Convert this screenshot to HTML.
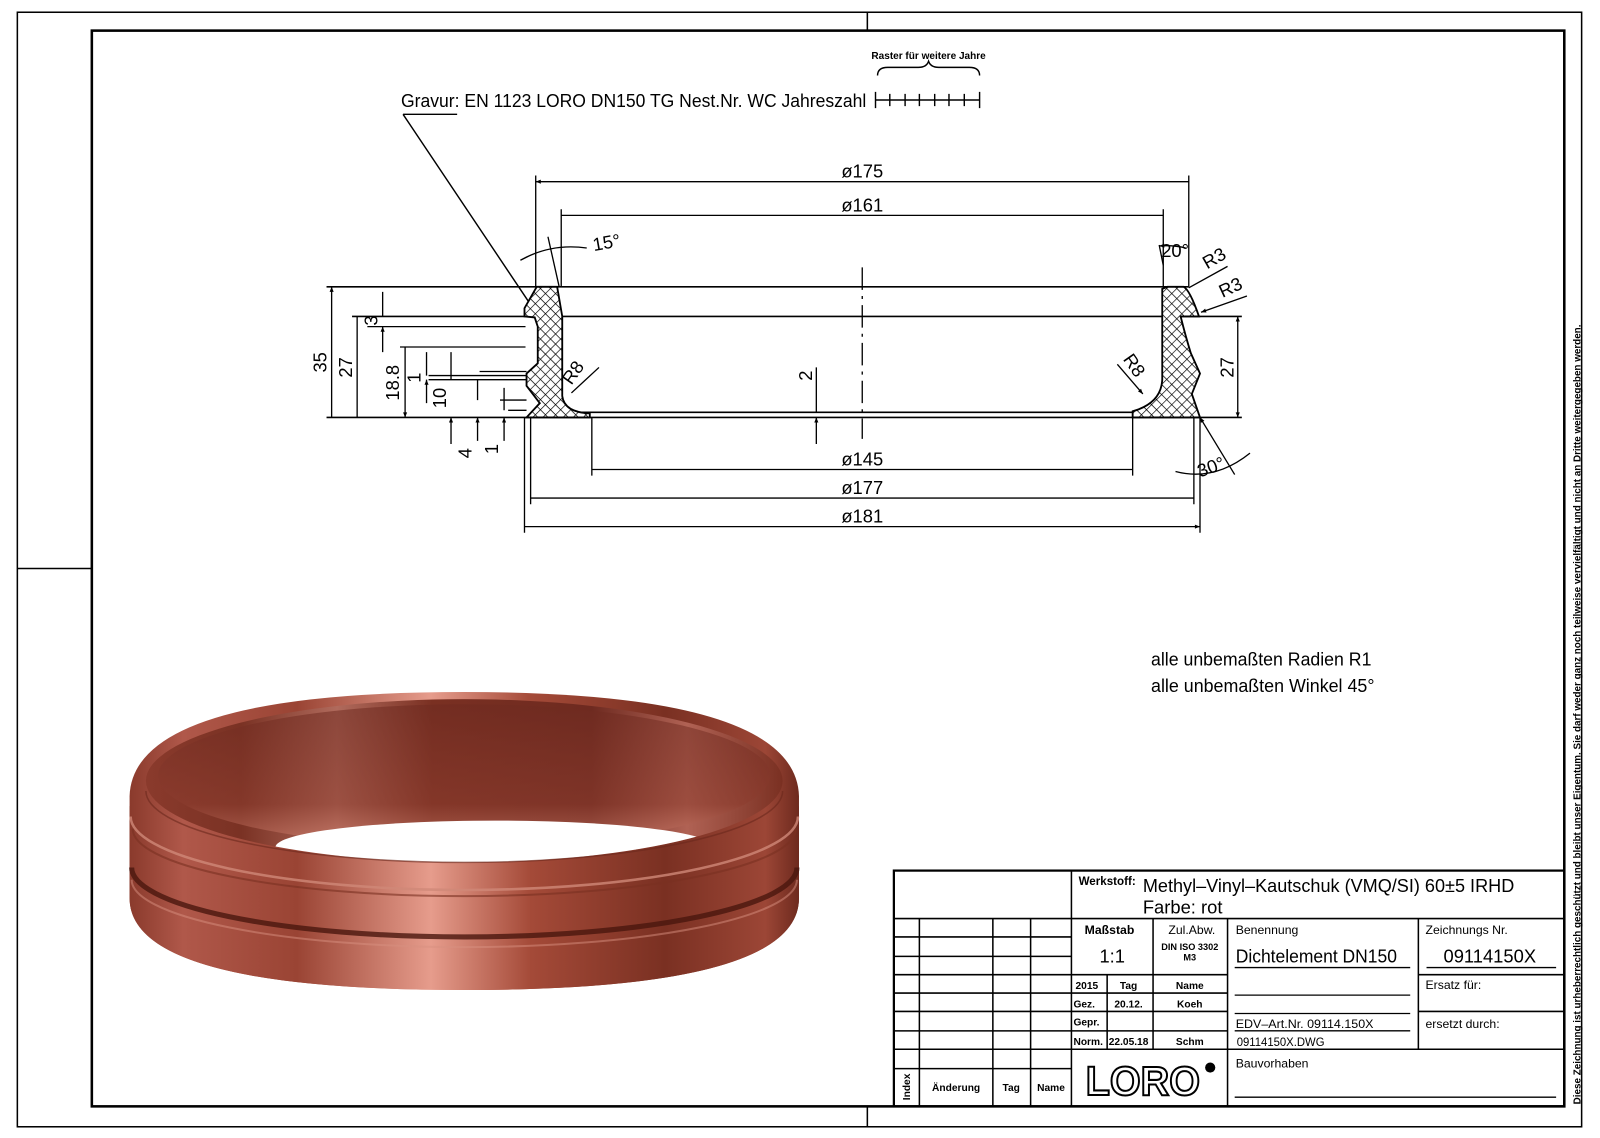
<!DOCTYPE html>
<html><head><meta charset="utf-8"><style>
html,body{margin:0;padding:0;background:#fff}
svg{display:block}
text{font-family:"Liberation Sans",sans-serif;fill:#000}
</style></head><body>
<svg width="1600" height="1138" viewBox="0 0 1568 1115" preserveAspectRatio="none" xmlns="http://www.w3.org/2000/svg">
<defs>
<pattern id="hx" width="7" height="7" patternUnits="userSpaceOnUse" patternTransform="rotate(45)">
<rect width="7" height="7" fill="#fff"/>
<path d="M0 0H7M0 0V7" stroke="#000" stroke-width="1.3"/>
</pattern>
<marker id="a" viewBox="0 0 10 10" refX="10" refY="5" markerWidth="9" markerHeight="5" orient="auto-start-reverse" markerUnits="userSpaceOnUse"><path d="M0 1L10 5L0 9z" fill="#000"/></marker>
<linearGradient id="g1" x1="0" x2="1">
<stop offset="0" stop-color="#8a3a2c"/><stop offset="0.08" stop-color="#b0584a"/><stop offset="0.25" stop-color="#9a4434"/><stop offset="0.45" stop-color="#e69c8c"/><stop offset="0.6" stop-color="#a44a38"/><stop offset="0.8" stop-color="#7a3022"/><stop offset="0.95" stop-color="#9c4636"/><stop offset="1" stop-color="#6e2a1e"/>
</linearGradient>
<linearGradient id="g2" x1="0" x2="1">
<stop offset="0" stop-color="#8a3a2c"/><stop offset="0.15" stop-color="#7a3224"/><stop offset="0.3" stop-color="#b06a5c"/><stop offset="0.45" stop-color="#7a3022"/><stop offset="0.7" stop-color="#6e2a20"/><stop offset="0.85" stop-color="#b06254"/><stop offset="1" stop-color="#7a3022"/>
</linearGradient>
<linearGradient id="g3" x1="0" y1="0" x2="0" y2="1">
<stop offset="0" stop-color="#6e2a20"/><stop offset="0.7" stop-color="#8c3c2e"/><stop offset="1" stop-color="#d98a78"/>
</linearGradient>
<clipPath id="inner"><ellipse cx="455" cy="765" rx="312" ry="80"/></clipPath>
</defs>
<g fill="none" stroke="#000">
<rect x="17" y="12" width="1533" height="1092" stroke-width="1.5"/>
<rect x="90" y="30" width="1443" height="1054" stroke-width="2.5"/>
<path d="M850 12V30M850 1084V1104M17 557H90" stroke-width="1.5"/>
</g>

<text x="393" y="105" font-size="18" textLength="456" lengthAdjust="spacingAndGlyphs">Gravur: EN 1123 LORO DN150 TG Nest.Nr. WC Jahreszahl</text>
<text x="910" y="58" font-size="10" font-weight="bold" text-anchor="middle" textLength="112" lengthAdjust="spacingAndGlyphs">Raster für weitere Jahre</text>
<g fill="none" stroke="#000" stroke-width="1.4">
<path d="M395 112H448M395 112L521 300"/>
<path d="M858 98H960M858 90V106M960 90V106M872 92V104M887 92V104M901 92V104M916 92V104M930 92V104M945 92V104"/>
<path d="M860 74Q860 66 870 66H900Q908 66 910 60Q912 66 920 66H950Q960 66 960 74"/>
</g>

<g fill="none" stroke="#000" stroke-width="1.3">
<path d="M320 281H1165M345 310H1217M320 409H1217M548 404H1112" stroke-width="1.6"/>
<path d="M845 262V430" stroke-dasharray="22 6 3 6"/>
<path d="M525 172V281M1165 172V281M550 205V281M1140 205V281M580 409V466M1110 409V466M520 409V494M1170 409V494M514 409V522M1176 409V522"/>
<path d="M525 178H1165M550 211H1140M580 460H1110M520 488H1170M514 516H1176" marker-start="url(#a)" marker-end="url(#a)"/>
<path d="M325 281V409M350 310V409M397 340V409" marker-start="url(#a)" marker-end="url(#a)"/>
<path d="M392 340H515M360 320H515M420 368H516M420 372H516M470 364H516M490 392H516M498 402H516"/>
<path d="M375 286V310M375 345V320" marker-end="url(#a)"/>
<path d="M418 345V368M418 395V372" marker-end="url(#a)"/>
<path d="M442 345V372M442 435V409" marker-end="url(#a)"/>
<path d="M468 372V392M468 432V409" marker-end="url(#a)"/>
<path d="M494 380V402M494 432V409" marker-end="url(#a)"/>
<path d="M800 360V404M800 435V409" marker-end="url(#a)"/>
<path d="M1213 310V409" marker-start="url(#a)" marker-end="url(#a)"/>
<path d="M548 281L537 232M510 255Q540 238 575 243M510 255L520 250" />
<path d="M1140 260L1136 240M1162 243Q1150 240 1136 241" marker-end="url(#a)"/>
<path d="M1176 409L1210 465M1152 462Q1190 472 1225 444" marker-start="url(#a)"/>
<path d="M1203 261L1165 282M1222 290L1177 306" marker-end="url(#a)"/>
<path d="M587 360L560 385M1095 357L1120 386" marker-end="url(#a)"/>
</g>
<path d="M526 281L546 281L551 310L551 388Q553 404 578 405L578 409L516 409L529 395L516 378L516 366L527 356L527 320L524 311L514 310L514 302Z" fill="url(#hx)" stroke="#000" stroke-width="1.8"/>
<path d="M1144 281L1160 281Q1166 284 1175 310L1157 310Q1162 330 1167 346L1176 366L1168 386L1176 409L1110 409L1110 403Q1138 395 1139 372L1139 283Z" fill="url(#hx)" stroke="#000" stroke-width="1.8"/>

<g font-size="18">
<text x="845" y="174" text-anchor="middle">ø175</text>
<text x="845" y="207" text-anchor="middle">ø161</text>
<text x="845" y="456" text-anchor="middle">ø145</text>
<text x="845" y="484" text-anchor="middle">ø177</text>
<text x="845" y="512" text-anchor="middle">ø181</text>
<text x="582" y="246" transform="rotate(-10 582 246)">15°</text>
<text x="1138" y="252">20°</text>
<text x="1176" y="468" transform="rotate(-20 1176 468)">30°</text>
<text x="1183" y="264" transform="rotate(-30 1183 264)">R3</text>
<text x="1198" y="292" transform="rotate(-25 1198 292)">R3</text>
<text x="560" y="378" transform="rotate(-55 560 378)">R8</text>
<text x="1100" y="352" transform="rotate(55 1100 352)">R8</text>
<text transform="translate(320 355) rotate(-90)" text-anchor="middle">35</text>
<text transform="translate(345 360) rotate(-90)" text-anchor="middle">27</text>
<text transform="translate(391 375) rotate(-90)" text-anchor="middle">18.8</text>
<text transform="translate(370 314) rotate(-90)" text-anchor="middle">3</text>
<text transform="translate(412 370) rotate(-90)" text-anchor="middle">1</text>
<text transform="translate(437 390) rotate(-90)" text-anchor="middle">10</text>
<text transform="translate(462 444) rotate(-90)" text-anchor="middle">4</text>
<text transform="translate(488 440) rotate(-90)" text-anchor="middle">1</text>
<text transform="translate(796 368) rotate(-90)" text-anchor="middle">2</text>
<text transform="translate(1209 360) rotate(-90)" text-anchor="middle">27</text>
</g>

<text x="1128" y="652" font-size="18" textLength="216" lengthAdjust="spacingAndGlyphs">alle unbemaßten Radien R1</text>
<text x="1128" y="678" font-size="18" textLength="219" lengthAdjust="spacingAndGlyphs">alle unbemaßten Winkel 45°</text>

<!-- 3D ring -->
<path d="M127 780Q130 678 455 678Q780 678 783 780L783 880Q783 970 455 970Q127 970 127 880Z" fill="url(#g1)"/>
<ellipse cx="455" cy="765" rx="312" ry="80" fill="url(#g2)"/>
<ellipse cx="455" cy="760" rx="300" ry="70" fill="url(#g3)" opacity="0.55" clip-path="url(#inner)"/>
<ellipse cx="485" cy="830" rx="215" ry="26" fill="#fff" clip-path="url(#inner)"/>
<path d="M143 775A312 70 0 0 0 767 775L783 790L783 880Q783 970 455 970Q127 970 127 880L127 790Z" fill="url(#g1)"/>
<path d="M143 775A312 70 0 0 0 767 775" fill="none" stroke="#6a281c" stroke-width="1.5" opacity="0.6"/>
<path d="M128 800A327 72 0 0 0 782 800" fill="none" stroke="#d08878" stroke-width="2.5" opacity="0.8"/>
<path d="M130 812A325 66 0 0 0 780 812" fill="none" stroke="#7a3022" stroke-width="2" opacity="0.6"/>
<path d="M129 850A326 68 0 0 0 781 850" fill="none" stroke="#4a160e" stroke-width="5" opacity="0.8"/>
<path d="M129 862A326 66 0 0 0 781 862" fill="none" stroke="#d89080" stroke-width="2" opacity="0.5"/>

<!-- title block -->
<g fill="none" stroke="#000" stroke-width="1.5">
<rect x="876" y="853" width="657" height="231" stroke-width="2.2"/>
<path d="M1050 853V1084M876 900H1533M901 900V1084M973 900V1084M1010 900V1084"/>
<path d="M876 918H1050M876 937H1050M876 955H1203M876 973H1203M876 991H1203M876 1010H1203M876 1028H1533M876 1047H1050"/>
<path d="M1130 900V1028M1085 955V1028M1203 900V1084M1390 900V1028M1390 955H1533M1390 991H1533"/>
<path d="M1210 948H1382M1398 948H1525M1210 975H1382M1210 993H1382M1210 1010H1382M1210 1075H1525" stroke-width="1.3"/>
</g>
<g font-size="11" font-weight="bold">
<text x="1057" y="867" font-size="12" textLength="56" lengthAdjust="spacingAndGlyphs">Werkstoff:</text>
<text x="1063" y="915" font-size="12">Maßstab</text>
<text x="1145" y="915" font-size="12" font-weight="normal">Zul.Abw.</text>
<text x="1166" y="931" font-size="9" text-anchor="middle">DIN ISO 3302</text>
<text x="1166" y="941" font-size="9" text-anchor="middle">M3</text>
<text x="1211" y="915" font-size="12" font-weight="normal">Benennung</text>
<text x="1397" y="915" font-size="12" font-weight="normal">Zeichnungs Nr.</text>
<text x="1397" y="969" font-size="12" font-weight="normal">Ersatz für:</text>
<text x="1397" y="1007" font-size="12" font-weight="normal">ersetzt durch:</text>
<text x="1211" y="1046" font-size="12" font-weight="normal">Bauvorhaben</text>
<text x="1054" y="969" font-size="10">2015</text>
<text x="1106" y="969" font-size="10" text-anchor="middle">Tag</text>
<text x="1166" y="969" font-size="10" text-anchor="middle">Name</text>
<text x="1052" y="987" font-size="10">Gez.</text>
<text x="1106" y="987" font-size="10" text-anchor="middle">20.12.</text>
<text x="1166" y="987" font-size="10" text-anchor="middle">Koeh</text>
<text x="1052" y="1005" font-size="10">Gepr.</text>
<text x="1052" y="1024" font-size="10">Norm.</text>
<text x="1106" y="1024" font-size="10" text-anchor="middle">22.05.18</text>
<text x="1166" y="1024" font-size="10" text-anchor="middle">Schm</text>
<text x="937" y="1069" font-size="10" text-anchor="middle">Änderung</text>
<text x="991" y="1069" font-size="10" text-anchor="middle">Tag</text>
<text x="1030" y="1069" font-size="10" text-anchor="middle">Name</text>
<text transform="translate(892 1078) rotate(-90)" font-size="10">Index</text>
</g>
<text x="1120" y="874" font-size="18" textLength="364" lengthAdjust="spacingAndGlyphs">Methyl–Vinyl–Kautschuk (VMQ/SI) 60±5 IRHD</text>
<text x="1120" y="895" font-size="18">Farbe: rot</text>
<text x="1090" y="943" font-size="18" text-anchor="middle">1:1</text>
<text x="1211" y="943" font-size="18" textLength="158" lengthAdjust="spacingAndGlyphs">Dichtelement DN150</text>
<text x="1460" y="943" font-size="18" text-anchor="middle">09114150X</text>
<text x="1211" y="1007" font-size="12" textLength="135" lengthAdjust="spacingAndGlyphs">EDV–Art.Nr. 09114.150X</text>
<text x="1212" y="1025" font-size="12" textLength="86" lengthAdjust="spacingAndGlyphs">09114150X.DWG</text>
<text x="1120" y="1073" font-size="40" font-weight="bold" text-anchor="middle" stroke="#000" stroke-width="2" textLength="112" lengthAdjust="spacingAndGlyphs" style="fill:#fff">LORO</text>
<circle cx="1186" cy="1046" r="5" fill="#000"/>

<text transform="translate(1549 1082) rotate(-90)" font-size="10" font-weight="bold" textLength="764" lengthAdjust="spacingAndGlyphs">Diese Zeichnung ist urheberrechtlich geschützt und bleibt unser Eigentum. Sie darf weder ganz noch teilweise vervielfältigt und nicht an Dritte weitergegeben werden.</text>
</svg>
</body></html>
